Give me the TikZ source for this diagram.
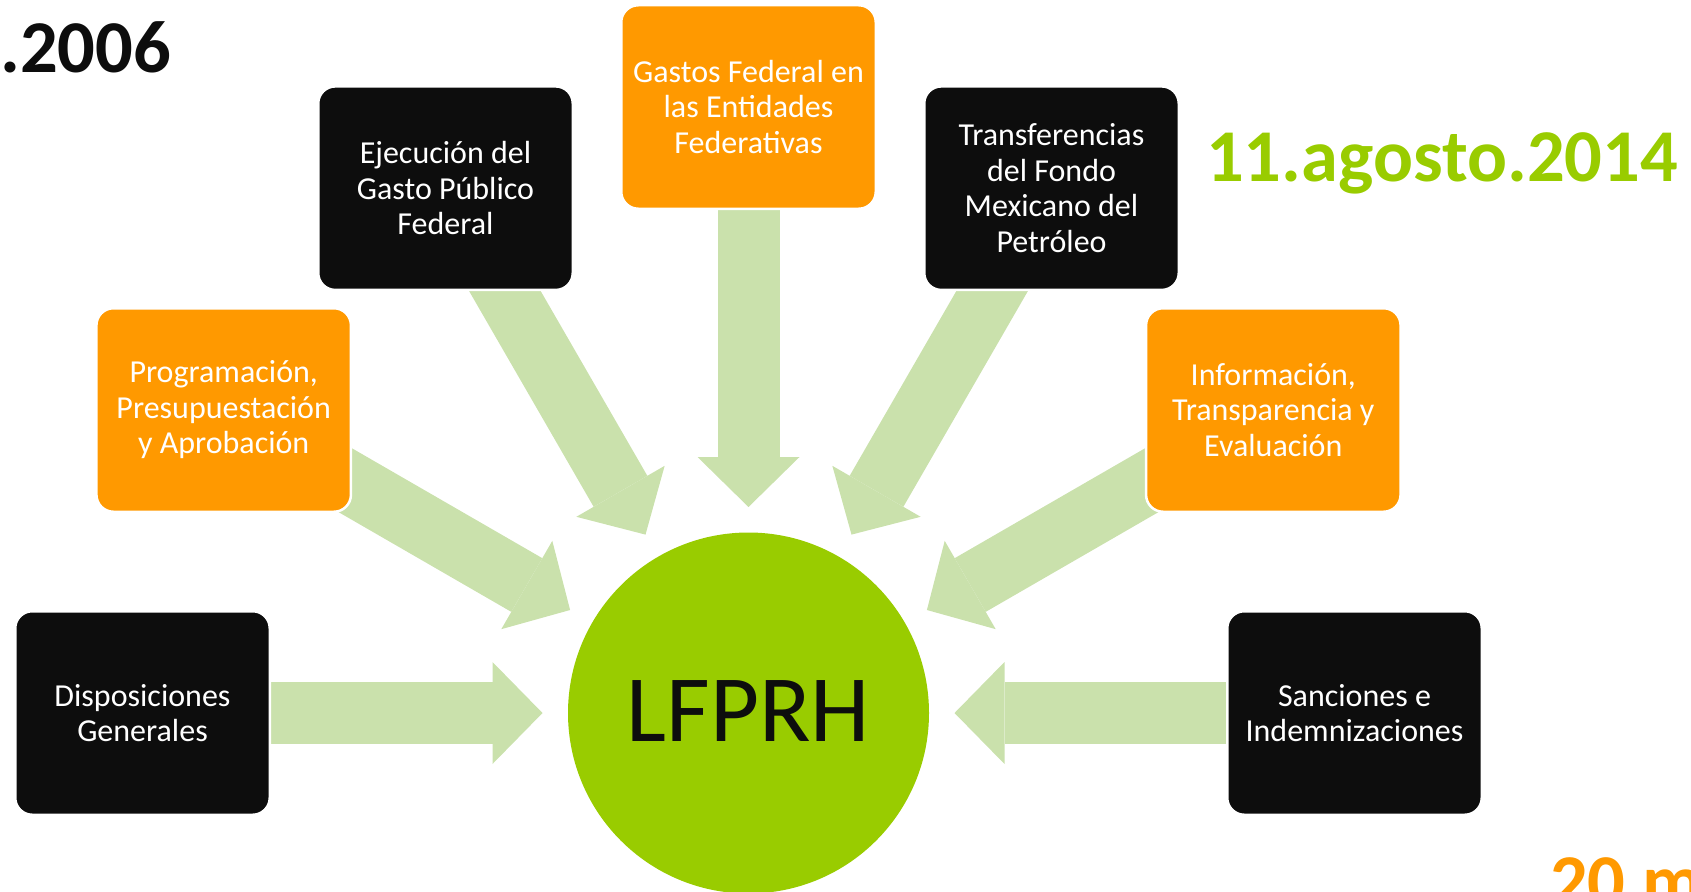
\documentclass[tikz,border=0pt]{standalone}
\usepackage{fontspec}
\setmainfont{Carlito}
\usetikzlibrary{calc,arrows.meta,backgrounds}
\definecolor{orng}{HTML}{FF9900}
\definecolor{blk}{HTML}{0D0D0D}
\definecolor{lime}{HTML}{99CC00}
\definecolor{arrgreen}{HTML}{CAE1AC}
\begin{document}
\begin{tikzpicture}[x=1pt,y=-1pt,
  box/.style={rectangle, rounded corners=17pt, draw=white, line width=2.5pt,
    minimum width=254.5pt, minimum height=203.5pt, text=white, align=center,
    font=\fontsize{32}{35.5}\selectfont, inner sep=0pt},
  obox/.style={box, fill=orng},
  kbox/.style={box, fill=blk},
  blockarrow/.style={draw=arrgreen, line width=62pt,
    -{Triangle[width=102pt,length=50pt,line width=0pt]}},
  title/.style={anchor=base west, inner sep=0pt, font=\bfseries\fontsize{74.5}{80}\selectfont}
  ]
\useasboundingbox (0,0) rectangle (1691,891);
\clip (0,0) rectangle (1691,891);
\coordinate (o) at (748.5,713);
\node[circle, fill=lime, minimum size=361pt, inner sep=0pt, text=blk,
  font=\fontsize{95}{100}\selectfont] (c) at (o) {\raisebox{3pt}{LFPRH}};
\node[kbox] (b1) at ($(o)+(180:606)$) {Disposiciones\\Generales};
\node[obox] (b2) at ($(o)+(-150:606)$) {Programación,\\Presupuestación\\y Aprobación};
\node[kbox] (b3) at ($(o)+(-120:606)$) {Ejecución del\\Gasto Público\\Federal};
\node[obox] (b4) at ($(o)+(-90:606)$) {Gastos Federal en\\las Entidades\\Federativas};
\node[kbox] (b5) at ($(o)+(-60:606)$) {Transferencias\\del Fondo\\Mexicano del\\Petróleo};
\node[obox] (b6) at ($(o)+(-30:606)$) {Información,\\Transparencia y\\Evaluación};
\node[kbox] (b7) at ($(o)+(0:606)$) {Sanciones e\\Indemnizaciones};
\begin{scope}[on background layer]
\foreach \b in {b1,b2,b3,b4,b5,b6,b7}
  \draw[blockarrow] (\b.center) -- ($(o)!206pt!(\b)$);
\end{scope}
\node[title, text=lime] (d1) at (1206,181.7) {11.agosto.2014};
\node[title, text=blk] (d2) at (0,72.7) {.2006};
\node[title, text=orng] (d3) at (1550,906) {20 m};
\end{tikzpicture}
\end{document}
